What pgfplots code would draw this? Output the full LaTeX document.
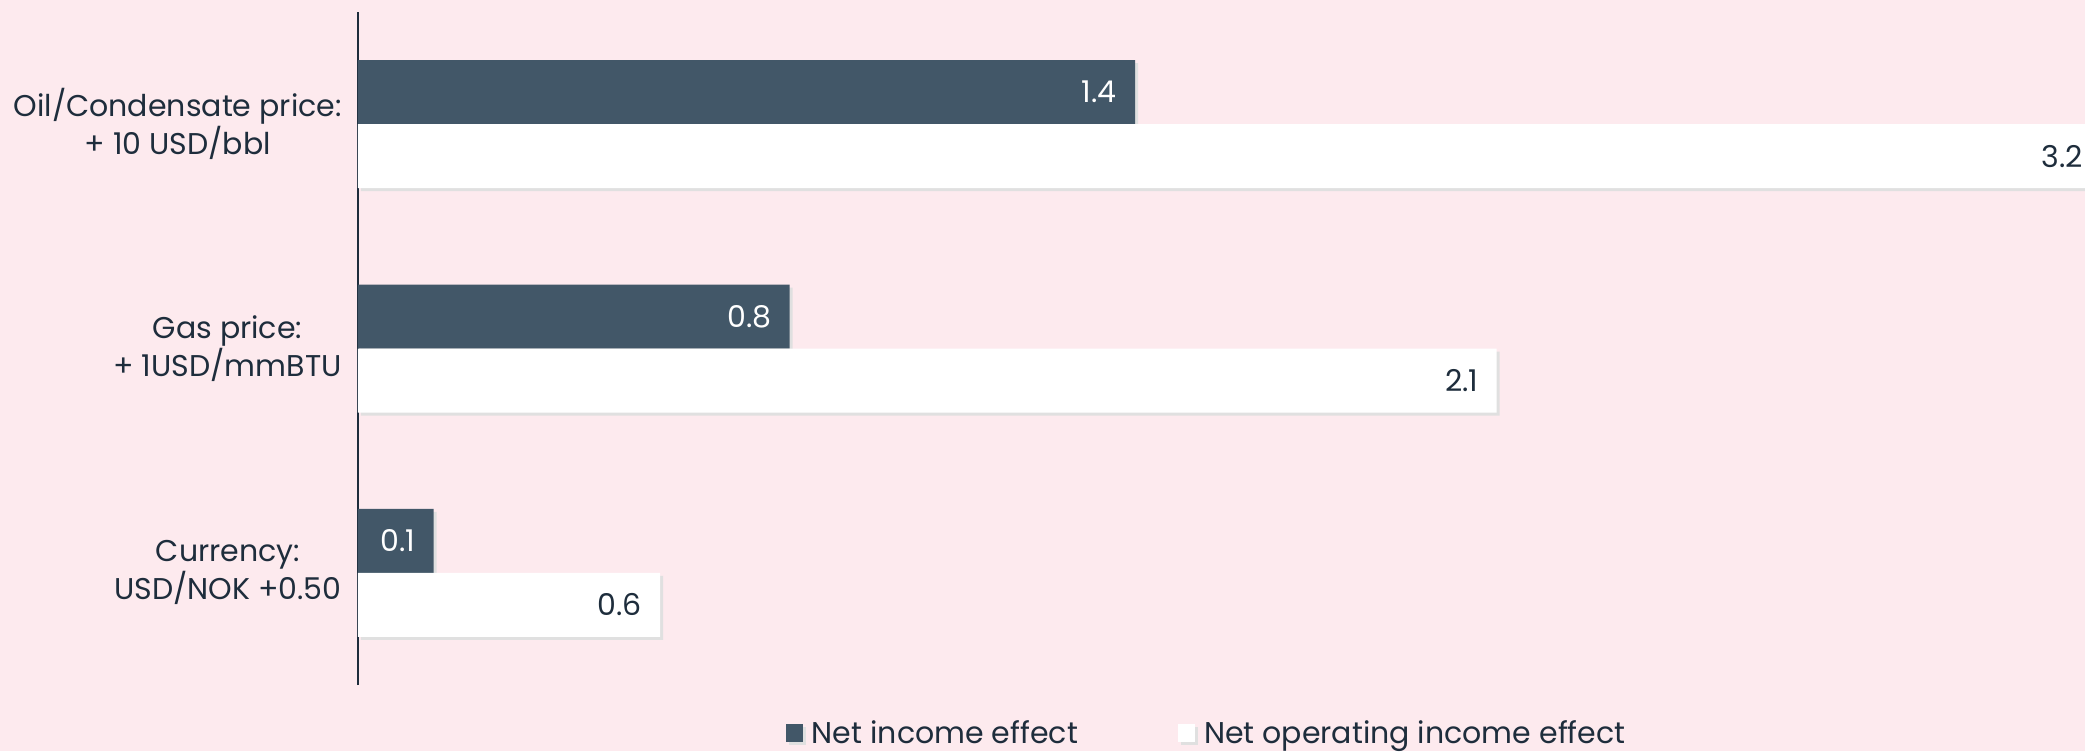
\documentclass[border=0pt]{standalone}
\usepackage{pgfplots}
\pgfplotsset{compat=1.18}
\usepackage{fontspec}
\setmainfont{Poppins}
\definecolor{bg}{HTML}{FDEAEE}
\definecolor{darkbar}{HTML}{425768}
\definecolor{txt}{HTML}{1E2D3C}
\begin{document}
\begin{tikzpicture}
\fill[bg] (-179pt,-33pt) rectangle (863.5pt,342.5pt);
\begin{axis}[
  scale only axis, width=863.5pt, height=336.5pt,
  at={(0,0)}, anchor=south west,
  xbar, bar width=32pt, clip=false,
  xmin=0, xmax=3.2, ymin=-0.5, ymax=2.5,
  axis x line=none,
  axis y line*=left,
  y axis line style={draw=txt, line width=0.75pt},
  ytick={0,1,2},
  major tick length=0pt,
  yticklabels={{Currency:\\USD/NOK +0.50},{Gas price:\\+ 1USD/mmBTU},{Oil/Condensate price:\\+ 10 USD/bbl}},
  yticklabel style={align=center, font=\fontsize{15}{17.5}\selectfont, text=txt, inner sep=0pt, xshift=-8pt},
  /pgf/number format/.cd, fixed, fixed zerofill, precision=1, assume math mode=true,
  /pgfplots/.cd,
  legend style={at={(0.492,-0.072)}, anchor=center, draw=none, fill=none,
    legend columns=2, font=\fontsize{15}{17.5}\selectfont, text=txt,
    /tikz/every even column/.append style={column sep=48pt},
    legend cell align=left},
]
\addplot[fill=darkbar, draw=none, bar shift=16pt,
  preaction={fill=black!12, transform canvas={xshift=1.5pt, yshift=-1.5pt}},
  nodes near coords,
  every node near coord/.style={anchor=east, xshift=-9pt, yshift=16pt, inner sep=0pt, text=white, font=\fontsize{15}{17.5}\selectfont},
  legend image code/.code={\fill[darkbar] (0pt,-4.5pt) rectangle (8.5pt,4.5pt); \path (11pt,0pt);}]
  coordinates {(0.14,0) (0.80,1) (1.44,2)};
\addlegendentry{Net income effect}
\addplot[fill=white, draw=none, bar shift=-16pt,
  preaction={fill=black!12, transform canvas={xshift=1.5pt, yshift=-1.5pt}},
  nodes near coords,
  every node near coord/.style={anchor=east, xshift=-9pt, yshift=-16pt, inner sep=0pt, text=txt, font=\fontsize{15}{17.5}\selectfont},
  legend image code/.code={\fill[white] (0pt,-4.5pt) rectangle (8.5pt,4.5pt); \path (11pt,0pt);}]
  coordinates {(0.56,0) (2.11,1) (3.23,2)};
\addlegendentry{Net operating income effect}
\end{axis}
\pgfresetboundingbox
\path[use as bounding box] (-179pt,-33pt) rectangle (863.5pt,342.5pt);
\end{tikzpicture}
\end{document}
